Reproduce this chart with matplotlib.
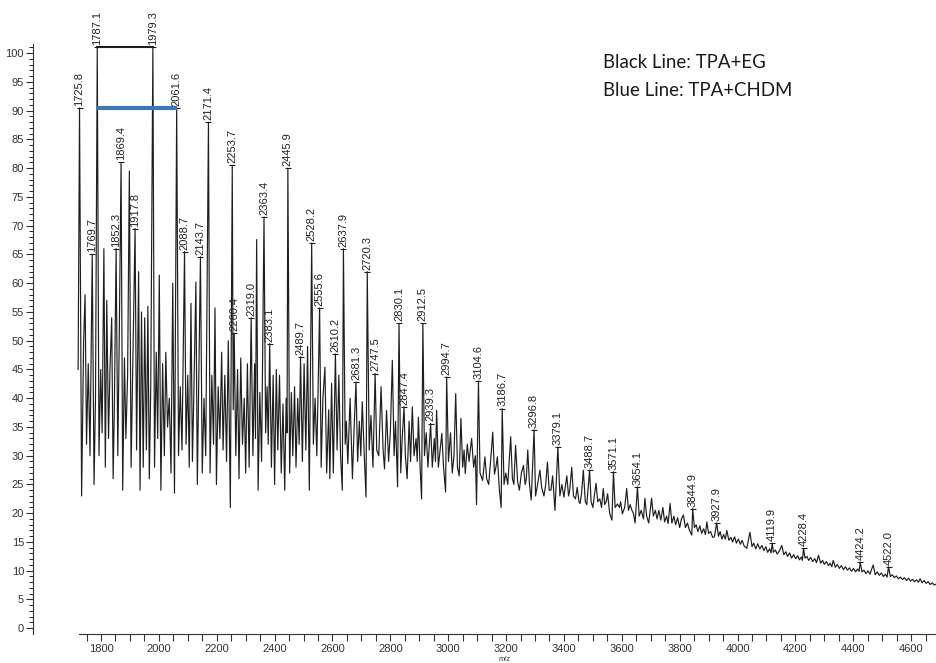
import matplotlib.pyplot as plt
import numpy as np

# spectrum vertices (m/z, relative intensity %)
mz = [1721, 1725.8, 1733, 1740, 1745, 1750, 1756, 1762, 1769.7, 1776, 1781, 1787.1,
      1793, 1799, 1804, 1810, 1815, 1820, 1826, 1831, 1837, 1842, 1846, 1852.3,
      1858, 1863, 1869.4, 1875, 1881, 1886, 1892, 1898, 1904, 1910, 1917.8, 1923,
      1930, 1935, 1940, 1946, 1951, 1957, 1962, 1967, 1972, 1979.3, 1985, 1991,
      1996, 2001.5, 2007, 2013, 2019, 2024, 2030, 2036, 2042, 2048, 2054, 2061.6,
      2068, 2074, 2080, 2088.7, 2094, 2100, 2105, 2111, 2116, 2121, 2128, 2133,
      2138, 2143.7, 2150, 2156, 2162, 2171.4, 2177, 2183, 2189, 2194, 2199, 2205,
      2211, 2217, 2222, 2228, 2234, 2240, 2247, 2253.7, 2257, 2260.4, 2266, 2272,
      2277, 2283, 2289, 2295, 2300, 2306, 2312, 2319.0, 2325, 2331, 2334, 2338,
      2343, 2349, 2355, 2363.4, 2369, 2374, 2378, 2383.1, 2389, 2395, 2400, 2406,
      2411, 2417, 2423, 2429, 2435, 2440, 2443, 2445.9, 2452, 2458, 2463, 2469,
      2474, 2480, 2485, 2489.7, 2496, 2502, 2508, 2514, 2520, 2528.2, 2534, 2540,
      2546, 2555.6, 2561, 2567, 2574, 2580, 2587, 2591, 2597, 2603, 2610.2, 2616,
      2622, 2628, 2634, 2637.9, 2644, 2648, 2653, 2661, 2669, 2675, 2681.3, 2687,
      2693, 2698, 2703, 2710, 2716, 2720.3, 2727, 2733, 2740, 2747.5, 2753, 2760,
      2768, 2775, 2780, 2787, 2794, 2800, 2807, 2813, 2818, 2825, 2830.1, 2836,
      2841, 2847.4, 2852, 2858, 2865, 2870, 2876, 2882, 2889, 2893, 2897, 2903,
      2908, 2912.5, 2918, 2924, 2930, 2939.3, 2945, 2952, 2956, 2960, 2966, 2972,
      2978, 2984, 2991, 2994.7, 3001, 3008, 3014, 3020, 3026, 3032, 3038, 3044,
      3050, 3055, 3059, 3066, 3072, 3081, 3088, 3094, 3098, 3104.6, 3110, 3119,
      3127, 3133, 3140, 3148, 3154, 3160, 3165, 3170, 3177, 3183, 3186.7, 3193,
      3199, 3206, 3216, 3222, 3227, 3233, 3240, 3246, 3253, 3260, 3266, 3270,
      3275, 3281, 3287, 3296.8, 3302, 3309, 3317, 3323, 3331, 3337, 3343, 3349,
      3355, 3361, 3369, 3379.1, 3386, 3393, 3400, 3410, 3416, 3420, 3427, 3433,
      3440, 3446, 3452, 3456, 3461, 3467, 3474, 3479, 3488.7, 3494, 3500, 3505,
      3511, 3517, 3524, 3530, 3536, 3541, 3546, 3551, 3558, 3566, 3571.1, 3577,
      3585, 3592, 3596, 3602, 3610, 3617, 3623, 3629, 3635, 3640, 3646, 3654.1,
      3660, 3667, 3675, 3680, 3686, 3693, 3703, 3709, 3716, 3722, 3728, 3735,
      3742, 3748, 3755, 3760, 3767, 3773, 3780, 3786, 3793, 3800, 3806, 3813,
      3820, 3827, 3834, 3842, 3844.9, 3851, 3857, 3863, 3870, 3876, 3883, 3889,
      3894, 3900, 3907, 3914, 3920, 3927.9, 3934, 3940, 3946, 3952, 3958, 3963,
      3970, 3977, 3983, 3990, 3996, 4003, 4010, 4016, 4023, 4032, 4043, 4050,
      4056, 4063, 4070, 4077, 4084, 4091, 4098, 4104, 4111, 4116, 4119.9, 4124,
      4131, 4137, 4144, 4153, 4160, 4167, 4173, 4180, 4187, 4194, 4201, 4208,
      4214, 4221, 4224, 4228.4, 4233, 4240, 4246, 4253, 4260, 4267, 4273, 4280,
      4287, 4294, 4300, 4307, 4314, 4320, 4326, 4331, 4338, 4345, 4352, 4359,
      4366, 4373, 4380, 4387, 4394, 4401, 4408, 4415, 4420, 4424.2, 4430, 4437,
      4444, 4451, 4458, 4463, 4469, 4476, 4483, 4490, 4497, 4504, 4511, 4517,
      4522.0, 4528, 4535, 4542, 4549, 4556, 4563, 4570, 4577, 4584, 4591, 4598,
      4605, 4612, 4619, 4625, 4631, 4638, 4645, 4652, 4659, 4666, 4673, 4680,
      4690]
inten = [45, 90.5, 23, 50, 58, 32, 46, 30, 65, 25, 40, 101,
         30, 45, 34, 66, 28, 57, 33, 45, 54, 26, 38, 66,
         30, 50, 81, 24, 47, 33, 44, 79.5, 28, 46, 69.5, 31,
         62, 24, 55, 28, 54, 31, 56, 26, 42, 101, 28, 48,
         33, 61.4, 24, 46, 30, 48, 35, 40, 27, 60, 23.5, 90.5,
         30, 42, 31, 65.5, 32, 44, 28, 56.5, 29, 41, 60.2, 25,
         43, 64.6, 27, 40, 30, 88, 27, 44, 32, 55.7, 25, 42,
         33, 48, 31, 44, 29, 50, 21, 80.5, 38, 51.3, 30, 45,
         26, 47, 32, 40, 27, 46, 28, 54, 30, 46, 33, 67.6,
         24, 41, 29, 71.5, 34, 42, 32, 49.5, 28, 44, 25, 45,
         31, 44, 27, 39, 24, 40, 34, 80, 27, 41, 30, 42,
         28, 40, 32, 47.2, 29, 46, 31, 49, 24, 67, 32, 40,
         30, 55.7, 28, 40, 45.4, 27, 38, 26, 42.6, 27, 47.7, 31,
         44, 30, 24, 66, 32, 36, 28.6, 40, 26, 35, 42.8, 29,
         36, 30, 39.4, 30, 22.8, 62, 31, 37, 28, 44.3, 31, 30,
         42, 31, 27.7, 37.9, 29, 34, 46.6, 30, 36, 24.6, 53, 27,
         33, 38.5, 30, 26, 36, 29, 38.5, 30, 33, 29, 36.7, 28,
         22.5, 53, 30, 34, 28, 35.6, 28, 33, 29, 37.9, 28, 31,
         33.9, 28, 23.7, 43.7, 29, 34, 27, 30, 40.8, 28, 26.5, 36.5,
         28, 31, 26.9, 32, 29, 33, 28, 30, 21.5, 43, 27, 25.7,
         29.8, 26, 25, 30, 34.1, 26.8, 28, 29.8, 24, 21, 38.2, 25,
         27, 25, 33.3, 26, 25, 31.8, 25.5, 24, 27, 28.3, 25, 26,
         31, 25, 22.3, 34.5, 23, 25, 27.5, 24.5, 23, 25, 28.9, 24,
         24, 26.5, 20.5, 31.5, 23, 25, 22.8, 26.5, 23, 24, 28, 23,
         22.5, 24.5, 22, 21.7, 23.5, 27.5, 22, 21.5, 27.5, 22, 21, 23,
         25.2, 22, 22.5, 21, 24.3, 21.5, 22, 23.4, 20, 18.8, 27.2, 21,
         21.6, 21, 22, 19.9, 21, 24.3, 20.5, 21.5, 20.5, 20, 18.3, 24.6,
         19.5, 20.5, 19, 22.6, 19.5, 18.3, 22.6, 19.5, 20.5, 19, 20.5, 18.8,
         21, 18.5, 19.5, 18.2, 21.7, 18.3, 19.5, 18, 19.2, 17.5, 19, 19.7,
         17.5, 18.3, 17, 16.2, 20.8, 17.5, 18, 16.8, 17.8, 16.5, 17.3, 16.3,
         18.5, 16.5, 16.8, 15.8, 15.9, 18.3, 16, 16.8, 15.5, 16.3, 15.5, 17,
         15.3, 15.8, 15, 15.9, 14.8, 15.5, 14.6, 15.3, 14.3, 13.9, 16.7, 14.2,
         14.8, 13.8, 14.7, 13.8, 14.4, 13.5, 14.2, 13.2, 13.8, 13.1, 14.8, 13.2,
         13.6, 12.9, 13.4, 14.4, 12.8, 13.3, 12.5, 13.1, 12.2, 12.8, 12.1, 12.6,
         11.9, 12.4, 11.8, 13.9, 12.2, 12.5, 11.8, 12.3, 11.6, 12.1, 11.4, 12.7,
         11.3, 11.8, 11.1, 11.6, 10.9, 11.3, 10.7, 11.8, 10.6, 11.1, 10.4, 10.9,
         10.2, 10.7, 10.1, 10.5, 9.9, 10.4, 9.8, 10.3, 9.9, 11.5, 9.8, 10.1,
         9.5, 10, 9.4, 10.2, 11, 9.3, 9.8, 9.2, 9.6, 9.0, 9.4, 8.9,
         10.7, 9.0, 9.3, 8.8, 9.1, 8.6, 8.9, 8.5, 8.8, 8.3, 8.7, 8.2,
         8.5, 8.1, 8.4, 8.0, 8.6, 7.9, 8.3, 7.8, 8.1, 7.6, 7.9, 7.5,
         7.8]

# annotated peaks
label_mz = [1725.8, 1769.7, 1787.1, 1852.3, 1869.4, 1917.8, 1979.3, 2061.6,
            2088.7, 2143.7, 2171.4, 2253.7, 2260.4, 2319.0, 2363.4, 2383.1,
            2445.9, 2489.7, 2528.2, 2555.6, 2610.2, 2637.9, 2681.3, 2720.3,
            2747.5, 2830.1, 2847.4, 2912.5, 2939.3, 2994.7, 3104.6, 3186.7,
            3296.8, 3379.1, 3488.7, 3571.1, 3654.1, 3844.9, 3927.9, 4119.9,
            4228.4, 4424.2, 4522.0]

black_span = [1787.1, 1979.3]   # TPA+EG repeat
blue_span = [1787.1, 2061.6]    # TPA+CHDM repeat

line_col = "#1e1e1e"

fig = plt.figure(figsize=(9.36, 6.63), dpi=100)
ax = fig.add_axes([33 / 936, 29 / 663, 903 / 936, 590 / 663])

ax.plot(mz, inten, color=line_col, lw=0.85)

label_h = [inten[mz.index(m)] for m in label_mz]
ax.plot(label_mz, label_h, "_", color=line_col, ms=4, mew=0.8)
for m, h in zip(label_mz, label_h):
    ax.annotate(f"{m:.1f}", (m, h), xytext=(0, 1.5), textcoords="offset points",
                rotation=90, ha="center", va="bottom", fontsize=8,
                family="Liberation Sans", color="#222222", annotation_clip=False)

ax.plot(black_span, [101, 101], color=line_col, lw=1.5)
ax.plot(blue_span, [90.5, 90.5], color="#3b78b4", lw=3, solid_capstyle="butt")

ax.set_xlim(1565, 4686)
ax.set_ylim(-1.0, 101.6)
ax.spines["top"].set_visible(False)
ax.spines["right"].set_visible(False)
ax.spines["bottom"].set_bounds(1724, 4686)

ax.set_xticks(range(1800, 4601, 200))
ax.set_xticks(range(1750, 4686, 50), minor=True)
ax.set_yticks(range(0, 101, 5))
ax.set_yticks(range(0, 102, 1), minor=True)
ax.tick_params(axis="x", which="both", direction="out", length=5, width=0.8,
               pad=2.5, labelsize=8, colors="#333333")
ax.tick_params(axis="y", which="major", direction="out", length=5, width=0.8,
               pad=1.5, labelsize=8, colors="#333333")
ax.tick_params(axis="y", which="minor", direction="out", length=3, width=0.6)
for lab in ax.get_xticklabels() + ax.get_yticklabels():
    lab.set_family("Liberation Sans")
for sp in ("left", "bottom"):
    ax.spines[sp].set_color("#333333")
    ax.spines[sp].set_linewidth(0.8)

fig.text(505 / 936, 1 - 659.5 / 663, "m/z", ha="center", va="center",
         fontsize=5.5, family="Liberation Sans", color="#333333")

fig.text(603 / 936, 1 - 63 / 663, "Black Line: TPA+EG", ha="left", va="center",
         fontsize=13.4, family="Lato", color="#1a1a1a")
fig.text(603 / 936, 1 - 91 / 663, "Blue Line: TPA+CHDM", ha="left", va="center",
         fontsize=13.4, family="Lato", color="#1a1a1a")

fig.savefig("out.png", dpi=100, facecolor="white")
